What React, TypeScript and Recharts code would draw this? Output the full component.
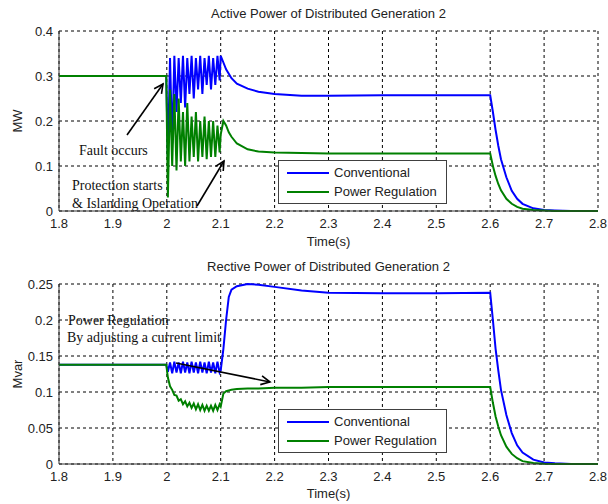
import { LineChart, Line, XAxis, YAxis, CartesianGrid, Legend } from 'recharts'

// sample times (s)
const time = [
  1.8, 1.999,
  2.002, 2.006, 2.01, 2.014, 2.018, 2.022, 2.026, 2.03, 2.034, 2.038, 2.042, 2.046, 2.05,
  2.054, 2.058, 2.062, 2.066, 2.07, 2.074, 2.078, 2.082, 2.086, 2.09, 2.094, 2.098,
  2.1, 2.105, 2.11, 2.115, 2.12, 2.13, 2.15, 2.17, 2.2, 2.25, 2.3, 2.4, 2.5, 2.6,
  2.605, 2.61, 2.615, 2.62, 2.63, 2.64, 2.65, 2.66, 2.68, 2.7, 2.72, 2.75, 2.8,
]

// active power (MW)
const activeConventional = [
  0.3, 0.3,
  0.12, 0.34, 0.15, 0.345, 0.22, 0.34, 0.24, 0.345, 0.23, 0.34, 0.26, 0.345, 0.25,
  0.34, 0.27, 0.345, 0.26, 0.34, 0.28, 0.345, 0.27, 0.34, 0.28, 0.345, 0.29,
  0.345, 0.33, 0.315, 0.305, 0.295, 0.283, 0.272, 0.265, 0.26, 0.256, 0.256, 0.257, 0.257, 0.257,
  0.22, 0.18, 0.145, 0.115, 0.075, 0.045, 0.027, 0.016, 0.006, 0.002, 0.001, 0, 0,
]
const activeRegulation = [
  0.3, 0.3,
  0.03, 0.27, 0.1, 0.26, 0.09, 0.25, 0.11, 0.22, 0.1, 0.24, 0.11, 0.21, 0.12,
  0.22, 0.11, 0.2, 0.12, 0.21, 0.115, 0.2, 0.12, 0.2, 0.12, 0.19, 0.13,
  0.17, 0.2, 0.19, 0.175, 0.165, 0.15, 0.137, 0.132, 0.13, 0.129, 0.128, 0.128, 0.128, 0.128,
  0.1, 0.078, 0.06, 0.046, 0.027, 0.016, 0.009, 0.005, 0.002, 0.001, 0, 0, 0,
]

// reactive power (Mvar)
const reactiveConventional = [
  0.138, 0.138,
  0.128, 0.141, 0.126, 0.142, 0.127, 0.141, 0.126, 0.142, 0.127, 0.141, 0.126, 0.142, 0.127,
  0.141, 0.126, 0.142, 0.127, 0.141, 0.126, 0.142, 0.127, 0.141, 0.126, 0.142, 0.127,
  0.13, 0.16, 0.2, 0.232, 0.242, 0.247, 0.25, 0.249, 0.246, 0.241, 0.238, 0.237, 0.237, 0.238,
  0.2, 0.16, 0.13, 0.103, 0.068, 0.043, 0.026, 0.016, 0.006, 0.002, 0.001, 0, 0,
]
const reactiveRegulation = [
  0.138, 0.138,
  0.12, 0.108, 0.103, 0.096, 0.095, 0.088, 0.09, 0.083, 0.087, 0.08, 0.085, 0.078, 0.084,
  0.076, 0.083, 0.075, 0.082, 0.074, 0.081, 0.074, 0.081, 0.074, 0.082, 0.075, 0.083,
  0.08, 0.098, 0.101, 0.102, 0.103, 0.104, 0.105, 0.105, 0.106, 0.106, 0.107, 0.107, 0.107, 0.107,
  0.085, 0.066, 0.052, 0.04, 0.024, 0.014, 0.008, 0.004, 0.0015, 0.0005, 0, 0, 0,
]

const timeTicks = [1.8, 1.9, 2, 2.1, 2.2, 2.3, 2.4, 2.5, 2.6, 2.7, 2.8]
const activeTicks = [0, 0.1, 0.2, 0.3, 0.4]
const reactiveTicks = [0, 0.05, 0.1, 0.15, 0.2, 0.25]

const SANS = '"Liberation Sans", Arial, sans-serif'
const SERIF = '"Liberation Serif", "Times New Roman", serif'
const TEXT = '#222'

const activeRows = time.map((t, i) => ({ t, conv: activeConventional[i], reg: activeRegulation[i] }))
const reactiveRows = time.map((t, i) => ({ t, conv: reactiveConventional[i], reg: reactiveRegulation[i] }))

function LegendBox({ payload }: any) {
  return (
    <div style={{ position: 'relative', width: 167, height: 42, border: '1px solid #404040', background: '#fff', fontFamily: SANS, fontSize: 13, color: TEXT }}>
      {(payload || []).map((p: any, i: number) => (
        <div key={p.value} style={{ position: 'absolute', left: 0, top: 3 + i * 19, height: 18, width: 167 }}>
          <span style={{ position: 'absolute', left: 8, top: 8, width: 42, height: 2, background: p.color }} />
          <span style={{ position: 'absolute', left: 55, top: 0, lineHeight: '18px', whiteSpace: 'nowrap' }}>{p.value}</span>
        </div>
      ))}
    </div>
  )
}

function Panel({ rows, ticks, yMax, yLabel, height, marginTop, xHeight, legendTop }: any) {
  return (
    <LineChart width={608} height={height} data={rows} margin={{ top: marginTop, right: 10, bottom: 0, left: 0 }}>
      <CartesianGrid stroke="#000" strokeDasharray="3 3" />
      <XAxis
        dataKey="t"
        type="number"
        domain={[1.8, 2.8]}
        ticks={timeTicks}
        interval={0}
        height={xHeight}
        tickLine={false}
        tickSize={0}
        tickMargin={8}
        axisLine={{ stroke: '#333' }}
        tick={{ fontSize: 13, fill: TEXT, fontFamily: SANS }}
        label={{ value: 'Time(s)', position: 'insideBottom', offset: 6, fontSize: 13, fill: TEXT, fontFamily: SANS }}
      />
      <YAxis
        type="number"
        domain={[0, yMax]}
        ticks={ticks}
        interval={0}
        width={59}
        tickLine={false}
        tickSize={0}
        tickMargin={6}
        axisLine={{ stroke: '#333' }}
        tick={{ fontSize: 13, fill: TEXT, fontFamily: SANS }}
        label={{
          content: (p: any) => (
            <text
              x={17}
              y={p.viewBox.y + p.viewBox.height / 2}
              transform={`rotate(-90, 17, ${p.viewBox.y + p.viewBox.height / 2})`}
              textAnchor="middle"
              dominantBaseline="central"
              fontSize={13}
              fill={TEXT}
              fontFamily={SANS}
            >
              {yLabel}
            </text>
          ),
        }}
      />
      <Line type="linear" dataKey="conv" name="Conventional" stroke="#0000ff" strokeWidth={2} dot={false} isAnimationActive={false} />
      <Line type="linear" dataKey="reg" name="Power Regulation" stroke="#008000" strokeWidth={2} dot={false} isAnimationActive={false} />
      <Legend
        layout="horizontal"
        verticalAlign="middle"
        align="center"
        content={<LegendBox />}
        wrapperStyle={{ left: 278, top: legendTop, width: 169, height: 44 }}
      />
    </LineChart>
  )
}

export default function App() {
  const title = { position: 'absolute' as const, left: 59, width: 539, textAlign: 'center' as const, fontFamily: SANS, fontSize: 13, color: TEXT, lineHeight: '16px' }
  return (
    <div style={{ position: 'absolute', left: 0, top: 0, width: 608, height: 504, background: '#fff' }}>
      <div style={{ position: 'absolute', left: 0, top: 0 }}>
        <Panel rows={activeRows} ticks={activeTicks} yMax={0.4} yLabel="MW" height={252} marginTop={31} xHeight={41} legendTop={160} />
      </div>
      <div style={{ position: 'absolute', left: 0, top: 252 }}>
        <Panel rows={reactiveRows} ticks={reactiveTicks} yMax={0.25} yLabel="Mvar" height={252} marginTop={32} xHeight={40} legendTop={157} />
      </div>
      <div style={{ ...title, top: 6 }}>Active Power of Distributed Generation 2</div>
      <div style={{ ...title, top: 259 }}>Rective Power of Distributed Generation 2</div>
      <svg width={608} height={504} style={{ position: 'absolute', left: 0, top: 0, pointerEvents: 'none' }}>
        <defs>
          <marker id="head" markerWidth="12" markerHeight="12" refX="10" refY="6" orient="auto" markerUnits="userSpaceOnUse">
            <path d="M1,1.5 L10,6 L1,10.5" fill="none" stroke="#000" strokeWidth="1.6" />
          </marker>
        </defs>
        <g fontFamily={SERIF} fontSize={14} fill="#111">
          <text x={79} y={155}>Fault occurs</text>
          <text x={72} y={190}>Protection starts</text>
          <text x={72} y={208}>&amp; Islanding Operation</text>
          <text x={68} y={325}>Power Regulation</text>
          <text x={67} y={342}>By adjusting a current limit</text>
        </g>
        <g stroke="#000" strokeWidth={1.6}>
          <line x1={127} y1={135} x2={163} y2={84} markerEnd="url(#head)" />
          <line x1={197} y1={206} x2={224} y2={161} markerEnd="url(#head)" />
          <line x1={176} y1={363} x2={270} y2={382} markerEnd="url(#head)" />
        </g>
      </svg>
    </div>
  )
}
